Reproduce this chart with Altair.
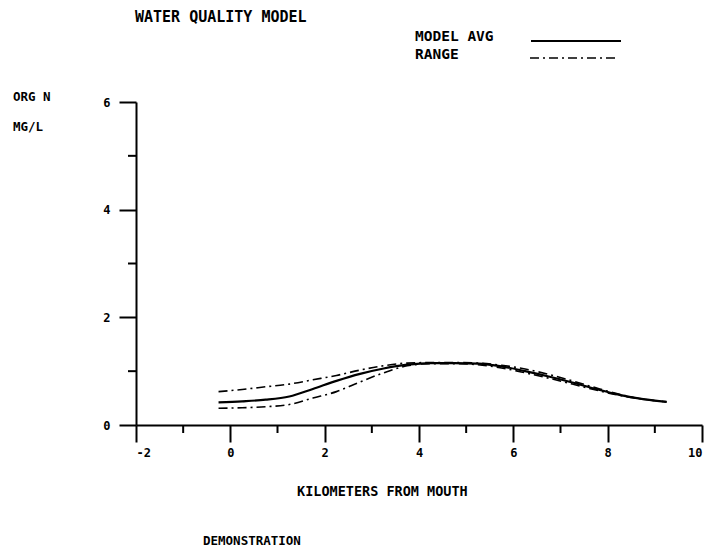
import altair as alt
import pandas as pd

# ---- data ----
km = [-0.25, 0.25, 0.75, 1.25, 1.75, 2.25, 2.75, 3.25, 3.75, 4.25,
      4.75, 5.25, 5.75, 6.25, 6.75, 7.25, 7.75, 8.25, 8.75, 9.25]
model_avg = [0.42, 0.44, 0.47, 0.53, 0.67, 0.82, 0.95, 1.05, 1.12, 1.15,
             1.15, 1.14, 1.09, 1.00, 0.90, 0.79, 0.67, 0.56, 0.48, 0.43]
range_hi = [0.62, 0.66, 0.71, 0.76, 0.84, 0.92, 1.02, 1.10, 1.15, 1.16,
            1.16, 1.15, 1.11, 1.04, 0.94, 0.82, 0.69, 0.57, 0.48, 0.43]
range_lo = [0.31, 0.32, 0.34, 0.38, 0.50, 0.62, 0.80, 0.97, 1.10, 1.14,
            1.14, 1.12, 1.06, 0.97, 0.87, 0.76, 0.65, 0.55, 0.48, 0.43]

x_major = [-2, 0, 2, 4, 6, 8, 10]
x_minor = [-1, 1, 3, 5, 7, 9]
y_major = [0, 2, 4, 6]
y_minor = [1, 3, 5]

FONT = "DejaVu Sans Mono"
W, H = 566, 323

xs = alt.Scale(domain=[-2, 10], nice=False, zero=False)
ys = alt.Scale(domain=[0, 6], nice=False, zero=False)

xaxis = alt.Axis(values=x_major, title=None, grid=False, tickSize=17, tickWidth=2,
                 domainWidth=2, domainColor="black", tickColor="black",
                 labelFont=FONT, labelFontWeight="bold", labelFontSize=12,
                 labelColor="black", labelPadding=5,
                 labelExpr="datum.value < 0 ? '-' + abs(datum.value) : datum.label")
yaxis = alt.Axis(values=y_major, title=None, grid=False, tickSize=17, tickWidth=2,
                 domainWidth=2, domainColor="black", tickColor="black",
                 labelFont=FONT, labelFontWeight="bold", labelFontSize=12,
                 labelColor="black", labelPadding=9)

df_avg = pd.DataFrame({"km": km, "v": model_avg})
df_hi = pd.DataFrame({"km": km, "v": range_hi})
df_lo = pd.DataFrame({"km": km, "v": range_lo})

X = alt.X("km:Q", scale=xs, axis=xaxis)
Y = alt.Y("v:Q", scale=ys, axis=yaxis)

avg_line = alt.Chart(df_avg).mark_line(color="black", strokeWidth=2.2,
                                       interpolate="monotone").encode(x=X, y=Y)
dash = [9, 4, 2, 4]
hi_line = alt.Chart(df_hi).mark_line(color="black", strokeWidth=1.6, strokeDash=dash,
                                     interpolate="monotone").encode(x=X, y=Y)
lo_line = alt.Chart(df_lo).mark_line(color="black", strokeWidth=1.6, strokeDash=dash,
                                     interpolate="monotone").encode(x=X, y=Y)

# minor ticks
xmin_ticks = alt.Chart(pd.DataFrame({"km": x_minor})).mark_rule(
    color="black", strokeWidth=2).encode(x=X, y=alt.value(H), y2=alt.value(H + 8))
ymin_ticks = alt.Chart(pd.DataFrame({"v": y_minor})).mark_rule(
    color="black", strokeWidth=2).encode(y=Y, x=alt.value(-8), x2=alt.value(0))

blank = alt.Data(values=[{}])


def txt(s, x, y, size, align="left"):
    return alt.Chart(blank).mark_text(
        text=s, font=FONT, fontWeight="bold", fontSize=size, color="black",
        align=align, baseline="middle").encode(x=alt.value(x), y=alt.value(y))


title = txt("WATER QUALITY MODEL", -1, -85, 15)
leg1 = txt("MODEL AVG", 279, -65, 14.5)
leg2 = txt("RANGE", 279, -47, 14.5)
ylab1 = txt("ORG N", -123, -5, 12.5)
ylab2 = txt("MG/L", -123, 25, 12.5)
xlab = txt("KILOMETERS FROM MOUTH", 161, 390, 13.5)
demo = txt("DEMONSTRATION", 67, 439, 12.5)

leg_solid = alt.Chart(blank).mark_rule(color="black", strokeWidth=2.2).encode(
    x=alt.value(395), x2=alt.value(485), y=alt.value(-61))
leg_dash = alt.Chart(blank).mark_rule(color="black", strokeWidth=1.6, strokeDash=dash).encode(
    x=alt.value(394), x2=alt.value(479), y=alt.value(-44))

chart = alt.layer(
    avg_line, hi_line, lo_line, xmin_ticks, ymin_ticks,
    title, leg1, leg2, ylab1, ylab2, xlab, demo, leg_solid, leg_dash
).properties(
    width=W, height=H,
    autosize=alt.AutoSizeParams(type="none"),
    padding={"left": 136, "top": 102, "right": 8, "bottom": 125},
    background="white",
).configure_view(stroke=None)

chart.save("out.html", embed_options={"renderer": "svg", "actions": False})
